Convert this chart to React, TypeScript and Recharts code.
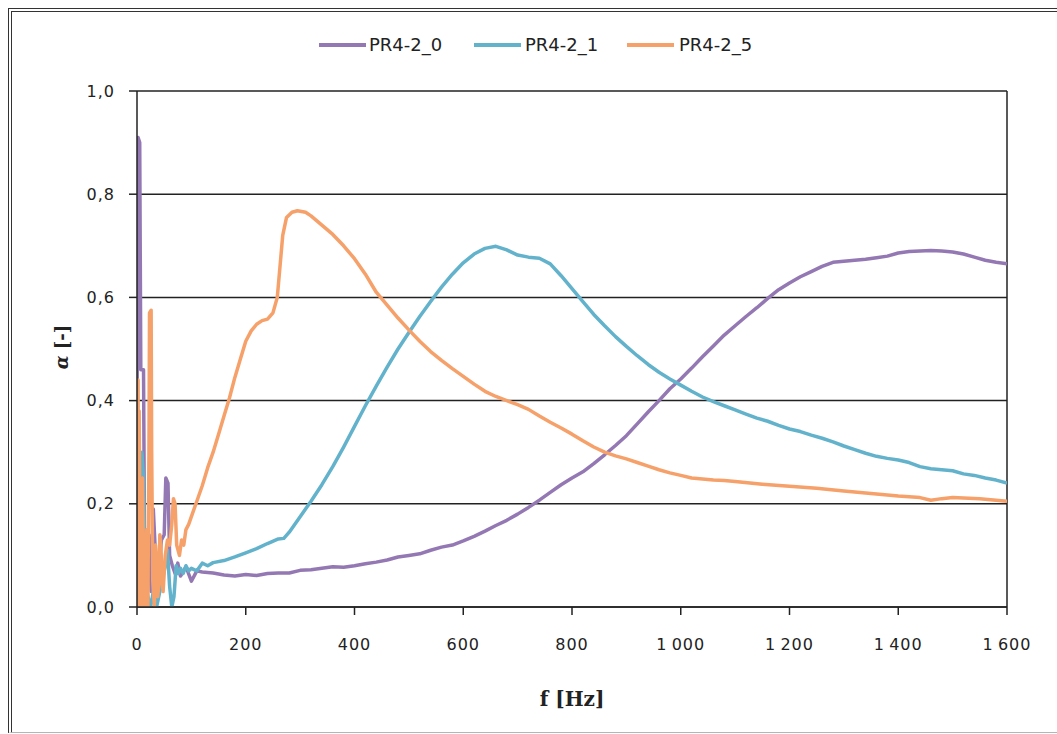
import { LineChart, Line, XAxis, YAxis, CartesianGrid, ReferenceLine } from 'recharts';

// PR4-2_0 absorption curve
const FREQ_0 = [
  0, 2, 5, 7, 12, 14, 18, 22, 26, 30,
  34, 38, 45, 50, 53, 57, 60, 65, 70, 75,
  80, 90, 100, 110, 120, 140, 160, 180, 200, 220,
  240, 260, 280, 300, 320, 340, 360, 380, 400, 420,
  440, 460, 480, 500, 520, 540, 560, 580, 600, 620,
  640, 660, 680, 700, 720, 740, 760, 780, 800, 820,
  840, 860, 880, 900, 920, 940, 960, 980, 1000, 1020,
  1040, 1060, 1080, 1100, 1120, 1140, 1160, 1180, 1200, 1220,
  1240, 1260, 1280, 1300, 1320, 1340, 1360, 1380, 1400, 1420,
  1440, 1460, 1480, 1500, 1520, 1540, 1560, 1580, 1600,
];
const ALPHA_0 = [
  0.30, 0.91, 0.90, 0.46, 0.46, 0.10, 0.05, 0.14, 0.03, 0.19,
  0.10, 0.05, 0.13, 0.14, 0.25, 0.24, 0.10, 0.08, 0.065, 0.085,
  0.06, 0.078, 0.05, 0.07, 0.068, 0.066, 0.062, 0.060, 0.063, 0.061,
  0.065, 0.066, 0.066, 0.071, 0.072, 0.075, 0.078, 0.077, 0.080, 0.084,
  0.087, 0.091, 0.097, 0.100, 0.103, 0.110, 0.116, 0.120, 0.128, 0.137,
  0.147, 0.158, 0.168, 0.180, 0.193, 0.207, 0.222, 0.237, 0.250, 0.262,
  0.278, 0.295, 0.313, 0.332, 0.355, 0.378, 0.400, 0.423, 0.442, 0.463,
  0.485, 0.506, 0.527, 0.545, 0.563, 0.580, 0.598, 0.615, 0.628, 0.640,
  0.650, 0.660, 0.668, 0.670, 0.672, 0.674, 0.677, 0.680, 0.686, 0.689,
  0.690, 0.691, 0.690, 0.688, 0.684, 0.678, 0.672, 0.668, 0.665,
];

// PR4-2_1 absorption curve
const FREQ_1 = [
  3, 6, 9, 12, 15, 20, 25, 30, 36, 40,
  46, 52, 56, 60, 64, 68, 72, 76, 80, 85,
  90, 95, 100, 110, 120, 130, 140, 160, 180, 200,
  220, 240, 260, 270, 280, 300, 320, 340, 360, 380,
  400, 420, 440, 460, 480, 500, 520, 540, 560, 580,
  600, 620, 640, 660, 680, 700, 720, 740, 760, 780,
  800, 820, 840, 860, 880, 900, 920, 940, 960, 980,
  1000, 1020, 1040, 1060, 1080, 1100, 1120, 1140, 1160, 1180,
  1200, 1220, 1240, 1260, 1280, 1300, 1320, 1340, 1360, 1380,
  1400, 1420, 1440, 1460, 1480, 1500, 1520, 1540, 1560, 1580, 1600,
];
const ALPHA_1 = [
  0.0, 0.02, 0.30, 0.25, 0.05, 0.02, 0.0, 0.03, 0.0, 0.02,
  0.05, 0.08, 0.11, 0.04, 0.0, 0.02, 0.08, 0.065, 0.075, 0.065,
  0.08, 0.07, 0.075, 0.07, 0.085, 0.08, 0.086, 0.090, 0.097, 0.105,
  0.113, 0.123, 0.132, 0.133, 0.145, 0.175, 0.205, 0.237, 0.272, 0.310,
  0.350, 0.390, 0.428, 0.465, 0.500, 0.532, 0.563, 0.592, 0.620, 0.645,
  0.667, 0.684, 0.695, 0.699, 0.692, 0.682, 0.678, 0.676, 0.665, 0.642,
  0.617, 0.592, 0.567, 0.545, 0.524, 0.505, 0.487, 0.470, 0.455, 0.442,
  0.430, 0.418, 0.407, 0.398, 0.390, 0.382, 0.374, 0.366, 0.360, 0.352,
  0.345, 0.340, 0.333, 0.327, 0.320, 0.312, 0.305, 0.298, 0.292, 0.288,
  0.285, 0.280, 0.272, 0.268, 0.266, 0.264, 0.258, 0.255, 0.250, 0.246, 0.240,
];

// PR4-2_5 absorption curve
const FREQ_5 = [
  0, 1, 2, 3, 4, 6, 8, 10, 12, 14,
  16, 18, 20, 22, 23, 26, 27, 29, 32, 34,
  36, 38, 40, 42, 44, 46, 48, 52, 56, 60,
  64, 67, 70, 73, 78, 82, 86, 90, 95, 100,
  110, 120, 130, 140, 150, 160, 170, 180, 190, 200,
  210, 220, 230, 240, 250, 258, 263, 268, 275, 285,
  295, 310, 320, 340, 360, 380, 400, 420, 440, 460,
  480, 500, 520, 540, 560, 580, 600, 620, 640, 660,
  680, 700, 720, 740, 760, 780, 800, 820, 840, 860,
  880, 900, 920, 940, 960, 980, 1000, 1020, 1040, 1060,
  1080, 1100, 1150, 1200, 1250, 1300, 1350, 1400, 1440, 1460,
  1480, 1500, 1550, 1600,
];
const ALPHA_5 = [
  0.43, 0.05, 0.44, 0.0, 0.38, 0.02, 0.0, 0.25, 0.10, 0.0,
  0.02, 0.15, 0.0, 0.30, 0.57, 0.575, 0.30, 0.05, 0.0, 0.12,
  0.09, 0.02, 0.04, 0.14, 0.12, 0.05, 0.03, 0.10, 0.13, 0.12,
  0.16, 0.21, 0.20, 0.12, 0.10, 0.13, 0.12, 0.15, 0.16, 0.175,
  0.205, 0.235, 0.27, 0.30, 0.335, 0.37, 0.405, 0.445, 0.48, 0.515,
  0.535, 0.548, 0.555, 0.558, 0.57, 0.60, 0.66, 0.72, 0.755, 0.765,
  0.768, 0.765, 0.758, 0.740, 0.722, 0.700, 0.675, 0.645, 0.610, 0.585,
  0.560, 0.537, 0.515, 0.495, 0.478, 0.462, 0.447, 0.432, 0.418, 0.408,
  0.400, 0.392, 0.383, 0.370, 0.358, 0.347, 0.335, 0.322, 0.310, 0.300,
  0.293, 0.287, 0.280, 0.273, 0.266, 0.260, 0.255, 0.250, 0.248, 0.246,
  0.245, 0.243, 0.238, 0.234, 0.230, 0.225, 0.220, 0.215, 0.212, 0.207,
  0.210, 0.212, 0.210, 0.205,
];

const X_TICKS = [0, 200, 400, 600, 800, 1000, 1200, 1400, 1600];
const Y_TICKS = [0, 0.2, 0.4, 0.6, 0.8, 1.0];

const toPoints = (freq: number[], alpha: number[]) =>
  freq.map((f, i) => ({ f, a: alpha[i] }));

const SERIES = [
  { name: 'PR4-2_0', color: '#9478b3', data: toPoints(FREQ_0, ALPHA_0) },
  { name: 'PR4-2_1', color: '#62b2cc', data: toPoints(FREQ_1, ALPHA_1) },
  { name: 'PR4-2_5', color: '#f6a06a', data: toPoints(FREQ_5, ALPHA_5) },
];

const LEGEND_POS = [
  { line: 319, text: 369 },
  { line: 474, text: 525 },
  { line: 627, text: 679 },
];

const INK = '#222';
const tickFont = { fontSize: 16, fontFamily: 'DejaVu Sans', fill: INK, letterSpacing: 1 };

const fmtX = (v: number) => (v >= 1000 ? `${Math.floor(v / 1000)}\u2009${String(v % 1000).padStart(3, '0')}` : String(v));
const fmtY = (v: number) => v.toFixed(1).replace('.', ',');

function App() {
  return (
    <div
      style={{
        position: 'absolute',
        left: 0,
        top: 0,
        width: 1057,
        height: 734,
        overflow: 'hidden',
        background: '#fff',
      }}
    >
      <div
        style={{
          position: 'absolute',
          left: 8,
          top: 8,
          width: 1070,
          height: 720,
          borderTop: '4px double #333',
          borderLeft: '4px double #333',
          borderBottom: '1px solid #b5b5b5',
        }}
      />
      {SERIES.map((s, i) => (
        <div key={s.name}>
          <div
            style={{
              position: 'absolute',
              left: LEGEND_POS[i].line,
              top: 43,
              width: 47,
              height: 4,
              background: s.color,
            }}
          />
          <div
            style={{
              position: 'absolute',
              left: LEGEND_POS[i].text,
              top: 34,
              fontFamily: 'DejaVu Sans',
              fontSize: 18,
              lineHeight: '21px',
              color: INK,
            }}
          >
            {s.name}
          </div>
        </div>
      ))}
      <div style={{ position: 'absolute', left: 0, top: 0 }}>
        <LineChart width={1057} height={734} margin={{ top: 91, right: 50, bottom: 97, left: 77 }}>
          <CartesianGrid vertical={false} stroke={INK} strokeWidth={1.5} strokeOpacity={1} />
          <XAxis
            dataKey="f"
            type="number"
            domain={[0, 1600]}
            ticks={X_TICKS}
            interval={0}
            tickFormatter={fmtX}
            tick={tickFont}
            tickSize={8}
            tickMargin={24}
            height={30}
            axisLine={{ stroke: INK, strokeWidth: 1.5 }}
            tickLine={{ stroke: INK, strokeWidth: 1.5 }}
            allowDataOverflow
            label={{
              content: (props: any) => {
                const vb = props.viewBox;
                return (
                  <text
                    x={vb.x + vb.width / 2}
                    y={vb.y + 99}
                    textAnchor="middle"
                    fontFamily="DejaVu Serif"
                    fontWeight="bold"
                    fontSize={20}
                    fill={INK}
                  >
                    f [Hz]
                  </text>
                );
              },
            }}
          />
          <YAxis
            type="number"
            domain={[0, 1]}
            ticks={Y_TICKS}
            interval={0}
            tickFormatter={fmtY}
            tick={tickFont}
            tickSize={8}
            tickMargin={14}
            width={60}
            axisLine={{ stroke: INK, strokeWidth: 1.5 }}
            tickLine={{ stroke: INK, strokeWidth: 1.5 }}
            allowDataOverflow
            label={{
              content: (props: any) => {
                const vb = props.viewBox;
                const cx = vb.x - 16;
                const cy = vb.y + vb.height / 2 - 2;
                return (
                  <text
                    x={cx}
                    y={cy}
                    transform={`rotate(-90 ${cx} ${cy})`}
                    textAnchor="middle"
                    dominantBaseline="central"
                    fontFamily="DejaVu Serif"
                    fontWeight="bold"
                    fontSize={18}
                    fill={INK}
                  >
                    <tspan fontStyle="italic">α</tspan> [-]
                  </text>
                );
              },
            }}
          />
          <ReferenceLine x={1600} stroke={INK} strokeWidth={1.5} />
          {SERIES.map((s) => (
            <Line
              key={s.name}
              data={s.data}
              dataKey="a"
              name={s.name}
              type="linear"
              stroke={s.color}
              strokeWidth={3.5}
              strokeLinejoin="round"
              dot={false}
              activeDot={false}
              isAnimationActive={false}
            />
          ))}
        </LineChart>
      </div>
    </div>
  );
}

export default App;
